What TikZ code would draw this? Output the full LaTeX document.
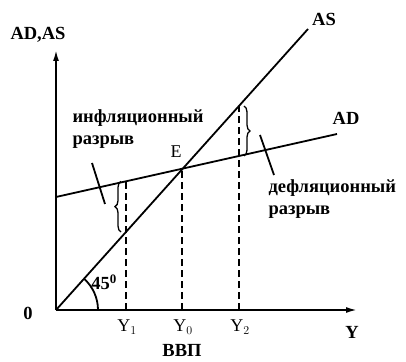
\documentclass[tikz,border=0pt]{standalone}
\usepackage{fontspec}
\setmainfont{Liberation Serif}
\usepackage{tikz}
\usetikzlibrary{arrows.meta, decorations.pathreplacing}

\begin{document}
\begin{tikzpicture}[
  x=1pt, y=1pt,
  axis/.style={line width=1.8pt, -{Latex[length=11pt, width=6pt]}},
  curve/.style={line width=1.8pt},
  guide/.style={line width=1.8pt, dash pattern=on 7pt off 4pt},
  gapbrace/.style={line width=1.3pt, decorate, decoration={brace, amplitude=6pt}},
  lbl/.style={font=\bfseries\fontsize{18.5}{22}\selectfont},
  tick/.style={font=\fontsize{18}{21}\selectfont}
]
  \useasboundingbox (-56,-51) rectangle (350,310);
  % axes
  \coordinate (O) at (0,0);
  \coordinate (ytop) at (0,260);
  \coordinate (xend) at (301,0);
  \draw[axis] (O) -- (ytop);
  \draw[axis] (O) -- (xend);
  % AS and AD
  \coordinate (ASend) at (252,281);
  \coordinate (ADbeg) at (0,113);
  \coordinate (ADend) at (281,176);
  \draw[curve] (O) -- (ASend);
  \draw[curve] (ADbeg) -- (ADend);
  % points on the lines
  \coordinate (E)  at (126,140.5);
  \coordinate (s1) at (70,78);
  \coordinate (d1) at (70,128.7);
  \coordinate (s2) at (183,204);
  \coordinate (d2) at (183,154);
  \coordinate (y1) at (70,0);
  \coordinate (y0) at (126,0);
  \coordinate (y2) at (183,0);
  \draw[guide] (y1) -- (d1);
  \draw[guide] (y0) -- (E);
  \draw[guide] (y2) -- (s2);
  % gaps
  \draw[gapbrace] ([xshift=-5pt]s1) -- ([xshift=-5pt]d1);
  \draw[gapbrace] ([xshift=5pt]s2) -- ([xshift=5pt]d2);
  \coordinate (ip1) at (36,147);
  \coordinate (ip2) at (49,106);
  \coordinate (dp1) at (204,175);
  \coordinate (dp2) at (218,135);
  \draw[curve] (ip1) -- (ip2);
  \draw[curve] (dp1) -- (dp2);
  % 45 degrees
  \draw[curve] (42,0) arc[start angle=0, end angle=48.1, radius=42];
  \node[lbl] (ang) at (48,28) {45\textsuperscript{0}};
  % labels
  \node[lbl] (ADAS) at (-18,275) {AD,AS};
  \node[lbl] (AS) at (268,291) {AS};
  \node[lbl] (AD) at (290,192) {AD};
  \node[tick] (Elbl) at (120,158) {E};
  \node[lbl, anchor=west, align=left] (infl) at (13,180.5) {инфляционный\\разрыв};
  \node[lbl, anchor=west, align=left] (defl) at (209,110.5) {дефляционный\\разрыв};
  \node[lbl] (zero) at (-28,-3) {0};
  \node[tick] (Y1) at (71,-17) {Y$_1$};
  \node[tick] (Y0) at (127,-17) {Y$_0$};
  \node[tick] (Y2) at (184,-17) {Y$_2$};
  \node[lbl] (Ylbl) at (296,-22) {Y};
  \node[lbl] (GDP) at (126,-40) {ВВП};
\end{tikzpicture}
\end{document}
